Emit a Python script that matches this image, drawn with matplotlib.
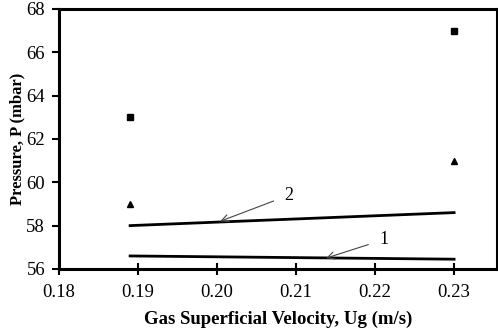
import numpy as np
import matplotlib.pyplot as plt

plt.rcParams['font.family'] = ['Liberation Serif', 'DejaVu Serif']

ug = [0.189, 0.23]
p_square = [63, 67]
p_triangle = [59, 61]
line1 = [56.6, 56.45]
line2 = [58.0, 58.6]

fig = plt.figure(figsize=(4.98, 3.30), dpi=100)
ax = fig.add_axes([0.1185, 0.185, 0.879, 0.788])

ax.plot(ug, p_square, 's', color='black', markersize=5, linestyle='none')
ax.plot(ug, p_triangle, '^', color='black', markersize=5, linestyle='none')
ax.plot(ug, line2, color='black', linewidth=2)
ax.plot(ug, line1, color='black', linewidth=2)

ax.annotate('2', xy=(0.2004, 58.2), xytext=(0.2085, 59.4), fontsize=13,
            va='center', ha='left',
            arrowprops=dict(arrowstyle='->', color='#444444', lw=0.8, shrinkA=6, shrinkB=0))
ax.annotate('1', xy=(0.2138, 56.5), xytext=(0.2205, 57.35), fontsize=13,
            va='center', ha='left',
            arrowprops=dict(arrowstyle='->', color='#444444', lw=0.8, shrinkA=6, shrinkB=0))

ax.set_xlim(0.18, 0.2354)
ax.set_ylim(56, 68)
ax.set_xticks([0.18, 0.19, 0.20, 0.21, 0.22, 0.23])
ax.set_xticklabels(['0.18', '0.19', '0.20', '0.21', '0.22', '0.23'])
ax.set_yticks(range(56, 69, 2))
for s in ax.spines.values():
    s.set_linewidth(2.2)
ax.tick_params(axis='x', direction='inout', length=8, width=1.5, labelsize=13.5, pad=7)
ax.tick_params(axis='y', direction='out', length=5, width=1.5, labelsize=13.5, pad=5)

ax.set_xlabel('Gas Superficial Velocity, Ug (m/s)', fontsize=13.5, fontweight='bold', labelpad=7)
ax.set_ylabel('Pressure, P (mbar)', fontsize=12, fontweight='bold', labelpad=1)

plt.savefig('out.png', dpi=100)
